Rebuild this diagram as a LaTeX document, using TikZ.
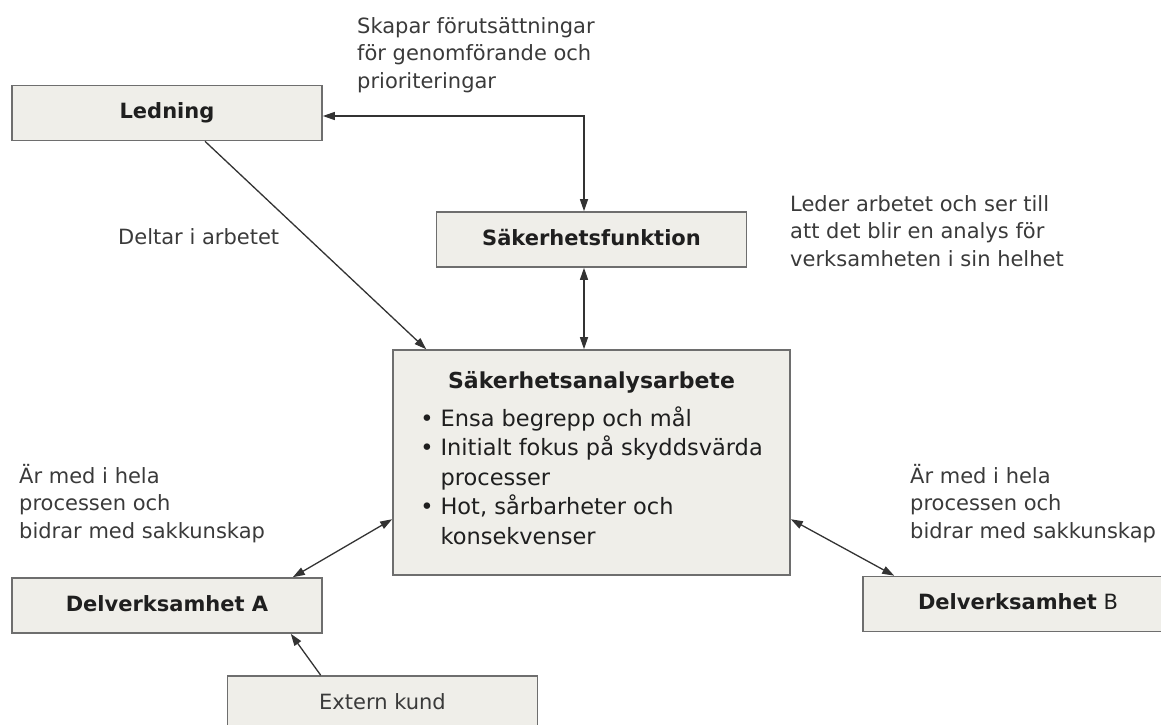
\documentclass[tikz,border=0pt]{standalone}
\usepackage{fontspec}
\setmainfont{DejaVu Sans}
\usetikzlibrary{positioning}
\usetikzlibrary{arrows.meta}
\definecolor{boxfill}{HTML}{EFEEE9}
\definecolor{boxline}{HTML}{6E6E6E}
\definecolor{txt}{HTML}{3A3A3A}

\begin{document}
\begin{tikzpicture}[x=1pt, y=-1pt, font=\fontsize{21}{27.5}\selectfont,
    >={Triangle[length=12pt,width=8pt]},
    ruta/.style={draw=boxline, line width=1.6pt, fill=boxfill, inner sep=0pt, text=black!88},
    b/.style={ruta, minimum width=310pt, minimum height=55pt, text height=16pt, text depth=5pt},
    t/.style={align=left, anchor=base west, inner sep=0pt, text=txt},
    pil/.style={draw=black!80, line width=1.3pt}]
            \clip (0,0) rectangle (1161,724);
            \node[b] (ledning) at (167,113) {\bfseries Ledning};
            \node[b] (sakfunk) at (591.5,239.5) {\bfseries Säkerhetsfunktion};
            \node[ruta, minimum width=397pt, minimum height=225pt, align=center,
                font=\fontsize{22.5}{29.5}\selectfont] (analys) at (591.5,462.5)
                {{\fontsize{22}{29.5}\selectfont\bfseries Säkerhetsanalysarbete}\\[8pt]
                 \begin{tabular}[t]{@{}l@{\hspace{7pt}}l@{}}
                 \textbullet & Ensa begrepp och mål\\
                 \textbullet & Initialt fokus på skyddsvärda\\
                             & processer\\
                 \textbullet & Hot, sårbarheter och\\
                             & konsekvenser
                 \end{tabular}};
            \node[b] (delA) at (167,605.5) {\bfseries Delverksamhet A};
            \node[b] (delB) at (1018,604) {\textbf{Delverksamhet} B};
            \node[b, text=txt] (kund) at (382.5,703.5) {Extern kund};

            \node[t] (skapar) at (357,88) {Skapar förutsättningar\\för genomförande och\\prioriteringar};
            \node[t] (deltar) at (118,244) {Deltar i arbetet};
            \node[t] (leder) at (790,266) {Leder arbetet och ser till\\att det blir en analys för\\verksamheten i sin helhet};
            \node[t] (medA) at (19,538) {Är med i hela\\processen och\\bidrar med sakkunskap};
            \node[t] (medB) at (910,538) {Är med i hela\\processen och\\bidrar med sakkunskap};

            \draw[pil, <->] ([xshift=-7.5pt]sakfunk.north) |- ([yshift=-3pt]ledning.east);
            \draw[pil, <->] ([xshift=-7.5pt]sakfunk.south) -- ([xshift=-7.5pt]analys.north);
            \draw[pil, ->] ([xshift=38pt]ledning.south) -- ([xshift=34pt]analys.north west);
            \draw[pil, <->] ([xshift=-30pt]delA.north east) -- ([yshift=-170pt]analys.north west);
            \draw[pil, <->] ([yshift=-170pt]analys.north east) -- ([xshift=32pt]delB.north west);
            \draw[pil, ->] ([xshift=94pt]kund.north west) -- ([xshift=-32pt]delA.south east);
        \end{tikzpicture}
\end{document}
